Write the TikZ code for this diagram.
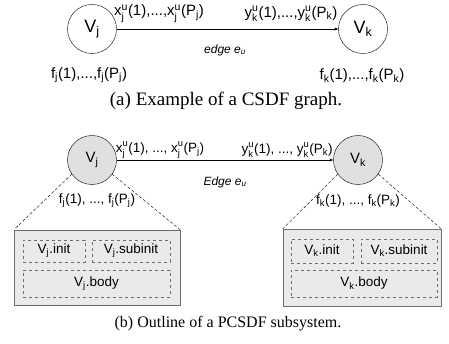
\documentclass[tikz,border=0pt]{standalone}
\usepackage{fontspec}
\setmainfont{Liberation Serif}
\newfontfamily\arialfont{Liberation Sans}
\usepackage{amsmath}
\usepackage{tikz}
\usetikzlibrary{arrows.meta, positioning}
\definecolor{boxgray}{RGB}{234,234,234}
\definecolor{actgray}{RGB}{224,224,224}
\definecolor{linegray}{RGB}{110,110,110}
\newcommand{\ud}[2]{$^{\text{#1}}_{\text{#2}}$}
\tikzset{
  actor/.style={circle, draw, minimum size=49pt, inner sep=0pt},
  lbl/.style={font=\arialfont\fontsize{15}{17}\selectfont, inner sep=0pt},
  lblb/.style={font=\arialfont\fontsize{13.5}{15}\selectfont, inner sep=0pt},
  elbl/.style={font=\arialfont\itshape\fontsize{12}{14}\selectfont, inner sep=0pt},
  subsys/.style={draw=linegray, fill=boxgray, inner sep=0pt},
  part/.style={draw=linegray, dashed, inner sep=0pt,
               font=\arialfont\fontsize{13.5}{15}\selectfont}
}

\begin{document}
\begin{tikzpicture}[x=1pt,y=-1pt]
\useasboundingbox (0,0) rectangle (449,344);

% ── (a) CSDF graph ─────────────────────────────────────────────────────────────
\node[actor, font=\arialfont\fontsize{18}{20}\selectfont] (vja) at (92,29) {V\textsubscript{j}};
\node[actor, font=\arialfont\fontsize{18}{20}\selectfont] (vka) at (363,29) {V\textsubscript{k}};
\draw[-{Stealth[length=4pt,width=3pt]}] (vja.east) -- (vka.west);

\node[lbl] (xa) at (159,14) {x\ud{u}{j}(1),...,x\ud{u}{j}(P\textsubscript{j})};
\node[lbl] (ya) at (291,14) {y\ud{u}{k}(1),...,y\ud{u}{k}(P\textsubscript{k})};
\node[elbl] (ea) at (225,50) {edge e\textsubscript{u}};
\node[lbl] (fja) at (89,75) {f\textsubscript{j}(1),...,f\textsubscript{j}(P\textsubscript{j})};
\node[lbl] (fka) at (362,76) {f\textsubscript{k}(1),...,f\textsubscript{k}(P\textsubscript{k})};

\node[font=\fontsize{19}{21}\selectfont, inner sep=0pt] (capa) at (226,101) {(a) Example of a CSDF graph.};

% ── (b) PCSDF subsystem ────────────────────────────────────────────────────────
\node[actor, fill=actgray, font=\arialfont\fontsize{15}{17}\selectfont] (vjb) at (92,160) {V\textsubscript{j}};
\node[actor, fill=actgray, font=\arialfont\fontsize{15}{17}\selectfont] (vkb) at (358,160) {V\textsubscript{k}};
\draw[-{Stealth[length=4pt,width=3pt]}] (vjb.east) -- (vkb.west);

\node[lblb] (xb) at (160,150) {x\ud{u}{j}(1), ..., x\ud{u}{j}(P\textsubscript{j})};
\node[lblb] (yb) at (287,150) {y\ud{u}{k}(1), ..., y\ud{u}{k}(P\textsubscript{k})};
\node[elbl] (eb) at (225,182) {Edge e\textsubscript{u}};
\node[lblb] (fjb) at (97,201) {f\textsubscript{j}(1), ..., f\textsubscript{j}(P\textsubscript{j})};
\node[lblb] (fkb) at (358,201) {f\textsubscript{k}(1), ..., f\textsubscript{k}(P\textsubscript{k})};

% Subsystem boxes
\node[subsys, minimum width=166pt, minimum height=75pt] (boxj) at (97,267.5) {};
\node[part, minimum width=62pt, minimum height=22pt] (initj) at (54,251) {V\textsubscript{j}.init};
\node[part, minimum width=78pt, minimum height=22pt] (subj) at (131,251) {V\textsubscript{j}.subinit};
\node[part, minimum width=147pt, minimum height=27pt] (bodyj) at (96.5,283.5) {V\textsubscript{j}.body};

\node[subsys, minimum width=158pt, minimum height=77pt] (boxk) at (362,267.5) {};
\node[part, minimum width=62pt, minimum height=24pt] (initk) at (322,251) {V\textsubscript{k}.init};
\node[part, minimum width=76pt, minimum height=24pt] (subk) at (399,251) {V\textsubscript{k}.subinit};
\node[part, minimum width=146pt, minimum height=27pt] (bodyk) at (364,283.5) {V\textsubscript{k}.body};

% Zoom lines
\draw[densely dashed, thin] (vjb.215) -- (boxj.north west);
\draw[densely dashed, thin] (vjb.-35) -- (boxj.north east);
\draw[densely dashed, thin] (vkb.215) -- (boxk.north west);
\draw[densely dashed, thin] (vkb.-35) -- (boxk.north east);

\node[font=\fontsize{16}{18}\selectfont, inner sep=0pt] (capb) at (228,324) {(b) Outline of a PCSDF subsystem.};

\end{tikzpicture}
\end{document}
